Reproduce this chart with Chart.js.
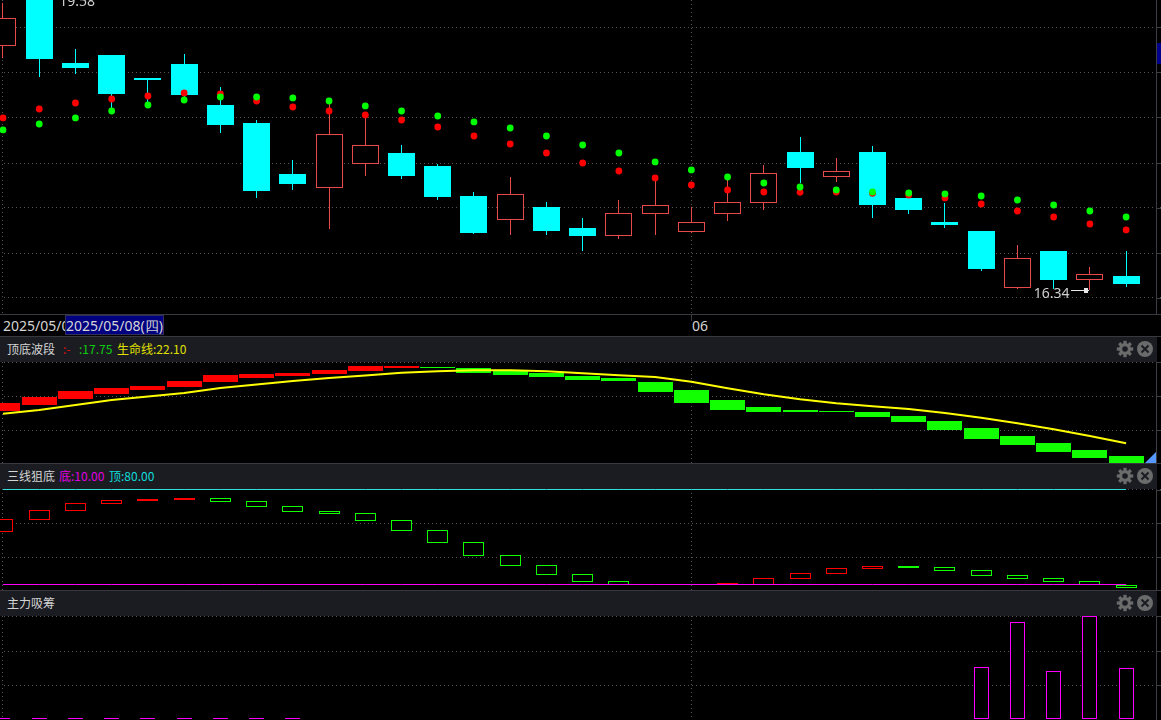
<!DOCTYPE html>
<html>
<head>
<meta charset="utf-8">
<title>K线</title>
<script src="https://cdn.jsdelivr.net/npm/chart.js"></script>
<style>
    html, body { margin: 0; padding: 0; width: 1161px; height: 720px; overflow: hidden; background: #000; }
    body { position: relative; font-family: "Noto Sans CJK SC", "Noto Sans", sans-serif; color: #d4d4d4; }
    canvas { position: absolute; left: 0; display: block; }
    .rule { position: absolute; background: #37393e; }
    .strip { position: absolute; left: 0; width: 1157px; height: 25px; background: #1a1c22; font-size: 12px; line-height: 23px; white-space: nowrap; }
    .strip span { position: absolute; top: 0; }
    .strip svg { position: absolute; top: 3px; }
    #dates { position: absolute; left: 0; top: 315px; width: 1156px; height: 21px; font-family: "Noto Sans", sans-serif; font-size: 14px; line-height: 21px; }
    #dates span { position: absolute; top: 0; white-space: nowrap; }
    #first { left: 3px; width: 62px; overflow: hidden; }
    #hover { left: 65px; width: 99px; height: 20px; text-align: center; background: #000080; outline: 1px solid #30305a; outline-offset: -1px; }
    #month { left: 692px; }
    #tag { position: absolute; left: 1157px; top: 43px; width: 4px; height: 21px; background: #00008b; }
    #corner { position: absolute; left: 1145px; top: 452px; width: 0; height: 0; border-left: 11px solid transparent; border-bottom: 11px solid #5599ff; }
</style>
</head>
<body>
<canvas id="main" width="1161" height="314" style="top:0"></canvas>
<div class="rule" style="left:0;top:314px;width:1161px;height:1px"></div>
<div id="dates"><span id="first"></span><span id="hover"></span><span id="month"></span></div>
<div class="rule" style="left:691px;top:315px;width:1px;height:6px"></div>
<div class="rule" style="left:0;top:336px;width:1161px;height:1px"></div>
<div class="strip" style="top:337px"><span style="left:7px">顶底波段</span><span style="left:63px;color:#e01010">:-</span><span style="left:79px;color:#10cc10">:17.75</span><span style="left:117px;color:#e0e000">生命线:22.10</span></div>
<canvas id="wave" width="1161" height="101" style="top:362px"></canvas>
<div class="rule" style="left:0;top:463px;width:1161px;height:1px"></div>
<div class="strip" style="top:464px"><span style="left:7px">三线狙底</span><span style="left:59px;color:#e000e0">底:10.00</span><span style="left:109px;color:#10dcdc">顶:80.00</span></div>
<canvas id="three" width="1161" height="101" style="top:489px"></canvas>
<div class="rule" style="left:0;top:590px;width:1161px;height:1px"></div>
<div class="strip" style="top:591px"><span style="left:7px">主力吸筹</span></div>
<canvas id="money" width="1161" height="104" style="top:616px"></canvas>
<div id="tag"></div>
<div id="corner"></div>

<script>
const dates = [
    "2025/05/06", "2025/05/07", "2025/05/08", "2025/05/09", "2025/05/12", "2025/05/13", "2025/05/14", "2025/05/15",
    "2025/05/16", "2025/05/19", "2025/05/20", "2025/05/21", "2025/05/22", "2025/05/23", "2025/05/26", "2025/05/27",
    "2025/05/28", "2025/05/29", "2025/05/30", "2025/06/03", "2025/06/04", "2025/06/05", "2025/06/06", "2025/06/09",
    "2025/06/10", "2025/06/11", "2025/06/12", "2025/06/13", "2025/06/16", "2025/06/17", "2025/06/18", "2025/06/19",
]

const opens = [
    19.079, 19.61, 18.891, 18.981, 18.723, 18.88, 18.419, 18.216, 17.643, 17.488, 17.758, 17.879, 17.733, 17.395, 17.128, 17.271,
    17.035, 16.948, 17.196, 16.993, 17.196, 17.32, 17.89, 17.612, 17.89, 17.373, 17.103, 17.001, 16.363, 16.776, 16.453, 16.495,
]
const highs = [
    19.563, 19.62, 19.045, 18.981, 18.723, 18.993, 18.618, 18.25, 17.8, 18.441, 18.306, 17.969, 17.755, 17.44, 17.609, 17.328,
    17.148, 17.35, 17.598, 17.271, 17.598, 17.744, 18.059, 17.823, 17.958, 17.395, 17.316, 17.001, 16.844, 16.776, 16.596, 16.776,
]
const lows = [
    18.951, 18.737, 18.771, 18.363, 18.419, 18.475, 18.107, 17.372, 17.463, 17.024, 17.623, 17.586, 17.35, 16.968, 16.956, 16.956,
    16.776, 16.911, 16.956, 16.979, 17.114, 17.238, 17.541, 17.553, 17.148, 17.193, 17.035, 16.551, 16.349, 16.349, 16.34, 16.371,
]
const closes = [
    19.394, 18.94, 18.835, 18.546, 18.7, 18.531, 18.194, 17.451, 17.53, 18.089, 17.965, 17.62, 17.384, 16.979, 17.414, 17.001,
    16.945, 17.2, 17.29, 17.099, 17.324, 17.65, 17.71, 17.673, 17.294, 17.238, 17.069, 16.574, 16.694, 16.45, 16.514, 16.405,
]
const redDots = [
    18.273, 18.374, 18.441, 18.486, 18.52, 18.554, 18.543, 18.464, 18.396, 18.351, 18.306, 18.25, 18.171, 18.07, 17.98, 17.879,
    17.766, 17.676, 17.598, 17.519, 17.463, 17.44, 17.436, 17.44, 17.425, 17.406, 17.373, 17.305, 17.226, 17.159, 17.08, 17.013,
]
const greenDots = [
    18.138, 18.205, 18.273, 18.351, 18.419, 18.475, 18.509, 18.509, 18.498, 18.464, 18.408, 18.351, 18.295, 18.228, 18.16, 18.07,
    17.969, 17.879, 17.778, 17.688, 17.609, 17.541, 17.496, 17.463, 17.44, 17.429, 17.418, 17.395, 17.35, 17.294, 17.226, 17.159,
]
const highText = "19.58"
const lowText = "16.34"

const waveTops = [
    22.18, 22.42, 22.66, 22.78, 22.86, 23.06, 23.30, 23.34, 23.38, 23.50, 23.66, 23.66, 23.62, 23.58, 23.46, 23.38,
    23.26, 23.18, 23.02, 22.70, 22.30, 22.02, 21.90, 21.86, 21.82, 21.66, 21.46, 21.18, 20.86, 20.58, 20.30, 20.06,
]
const waveBottoms = [
    21.86, 22.10, 22.34, 22.54, 22.70, 22.82, 23.02, 23.18, 23.26, 23.34, 23.46, 23.58, 23.58, 23.38, 23.30, 23.22,
    23.10, 23.06, 22.62, 22.18, 21.90, 21.82, 21.82, 21.82, 21.62, 21.42, 21.10, 20.74, 20.50, 20.22, 19.98, 19.78,
]
const lifeLine = [
    21.75, 21.90, 22.10, 22.30, 22.44, 22.58, 22.78, 22.92, 23.06, 23.18, 23.28, 23.39, 23.45, 23.49, 23.49, 23.45,
    23.37, 23.29, 23.22, 23.03, 22.77, 22.53, 22.33, 22.17, 22.05, 21.94, 21.78, 21.59, 21.37, 21.13, 20.86, 20.57,
]
const waveRedCount = 12

const threeTops = [
    58.04, 64.67, 69.83, 72.26, 73.00, 73.73, 73.73, 71.30, 67.62, 63.93, 62.46, 57.30, 49.93, 41.09, 31.51, 24.15,
    17.52, 12.36, null, null, 11.11, 14.57, 18.25, 21.94, 23.63, 23.41, 22.67, 20.46, 16.78, 14.57, 12.36, 10.00,
]
const threeBottoms = [
    48.90, 57.75, 64.38, 69.53, 71.52, 72.48, 71.01, 67.32, 63.64, 62.17, 57.01, 49.64, 40.80, 31.22, 23.85, 17.22,
    12.06, 9.63, null, null, 9.63, 10.00, 14.27, 17.96, 21.64, 22.38, 20.17, 16.48, 14.27, 12.06, 10.00, 7.64,
]
const threeColors = [
    "r", "r", "r", "r", "r", "r", "g", "g", "g", "g", "g", "g", "g", "g", "g", "g",
    "g", "g", "g", "g", "r", "r", "r", "r", "r", "g", "g", "g", "g", "g", "g", "g",
]
const bottomLine = 10
const topLine = 80

const moneyBars = [
    1, 1, 1, 1, 1, 1, 1, 1, 1, null, null, null, null, null, null, null,
    null, null, null, null, null, null, null, null, null, null, null, 50.2, 93.9, 46.3, 100, 49.2,
]

const mainGrid = [19.291, 18.787, 18.28, 17.766, 17.26, 16.75, 16.248]
const waveGrid = [23.81, 22.45, 21.09]
const threeGrid = [80, 55.1, 30]
const moneyGrid = [100, 65.7, 32.7]
const xGrid = [0, 19]

const RED = "#ff0000"
const GREEN = "#11ff00"
const CANDLE_RED = "#e84a4a"
const CYAN = "#00ffff"
const MAGENTA = "#ff00ff"

const xMin = -0.0828
const xMax = 31.963

// bars land on whole pixels, like the original terminal draws them
const snapBars = {
    id: "snapBars",
    beforeDatasetsDraw(chart) {
        chart.ctx.fillStyle = "#000"
        chart.ctx.fillRect(0, 0, 2, chart.height)
        chart.getSortedVisibleDatasetMetas().forEach((meta) => {
            if (meta.type !== "bar") return
            meta.data.forEach((el) => {
                el.x = Math.floor(el.x) + 0.5
                el.y = Math.round(el.y)
                el.base = Math.round(el.base)
            })
        })
    },
}

const rightAxis = {
    id: "rightAxis",
    afterDraw(chart) {
        const ctx = chart.ctx
        ctx.save()
        ctx.fillStyle = "#3c3e44"
        ctx.fillRect(1156, 0, 1, chart.height)
        chart.scales.y.ticks.forEach((tick) => {
            ctx.fillRect(1157, Math.round(chart.scales.y.getPixelForValue(tick.value)), 4, 1)
        })
        ctx.restore()
    },
}

const extremeLabels = {
    id: "extremeLabels",
    afterDatasetsDraw(chart) {
        const ctx = chart.ctx
        const { x, y } = chart.scales
        const highIdx = highs.indexOf(Math.max(...highs))
        const lowIdx = lows.indexOf(Math.min(...lows))
        const lowX = Math.floor(x.getPixelForValue(lowIdx)) + 0.5
        const lowY = Math.round(y.getPixelForValue(lows[lowIdx]))

        ctx.save()
        ctx.font = '14px "Noto Sans"'
        ctx.textBaseline = "middle"
        ctx.fillStyle = "#d0d0d0"
        ctx.textAlign = "left"
        ctx.fillText(highText, x.getPixelForValue(highIdx) + 20, y.getPixelForValue(highs[highIdx]) + 4)
        ctx.textAlign = "right"
        ctx.fillText(lowText, lowX - 20, lowY + 4)

        ctx.fillStyle = "#e8e8e8"
        ctx.fillRect(lowX - 18.5, lowY, 18, 1)
        ctx.fillRect(lowX - 5.5, lowY - 2, 4, 5)
        ctx.restore()
    },
}

function gridScale(values, min, max) {
    return {
        type: "linear",
        offset: false,
        min: min,
        max: max,
        afterBuildTicks: (scale) => { scale.ticks = values.map((v) => ({ value: v })) },
        ticks: { display: false, autoSkip: false, callback: () => "" },
        grid: { color: "#555555", drawTicks: false, offset: false },
        border: { display: false, dash: [1, 3] },
    }
}

function makePanel(id, yMin, yMax, yGrid, datasets, plugins) {
    new Chart(document.getElementById(id), {
        type: "bar",
        data: { datasets: datasets },
        options: {
            animation: false,
            responsive: false,
            devicePixelRatio: 1,
            layout: { padding: 0, autoPadding: false },
            plugins: { legend: { display: false }, tooltip: { enabled: false } },
            scales: {
                x: gridScale(xGrid, xMin, xMax),
                y: gridScale(yGrid, yMin, yMax),
            },
        },
        plugins: [snapBars, rightAxis].concat(plugins || []),
    })
}

function barSet(values, width, fill, edge, order) {
    return {
        type: "bar",
        data: values,
        grouped: false,
        barThickness: width,
        backgroundColor: fill,
        borderColor: edge,
        borderWidth: 1,
        borderSkipped: false,
        inflateAmount: 0,
        order: order,
    }
}

function lineSet(values, color, width, order) {
    return {
        type: "line",
        data: values.map((v, i) => ({ x: i, y: v })),
        borderColor: color,
        borderWidth: width,
        pointRadius: 0,
        tension: 0,
        order: order,
    }
}

function dotSet(values, color, order) {
    return {
        type: "line",
        data: values.map((v, i) => ({ x: i, y: v })),
        showLine: false,
        pointStyle: "circle",
        pointRadius: 3.4,
        pointBackgroundColor: color,
        pointBorderWidth: 0,
        order: order,
    }
}

function loadMain() {
    const isUp = opens.map((o, i) => closes[i] >= o)
    const wickColors = isUp.map((up) => up ? CANDLE_RED : CYAN)
    const bodyFills = isUp.map((up) => up ? "#000" : CYAN)
    const wicks = opens.map((o, i) => ({ x: i, y: [lows[i], highs[i]] }))
    const bodies = opens.map((o, i) => ({ x: i, y: [Math.min(o, closes[i]), Math.max(o, closes[i])] }))

    const wickSet = barSet(wicks, 1, wickColors, wickColors, 4)
    wickSet.borderWidth = 0

    makePanel("main", 16.0675, 19.6, mainGrid, [
        wickSet,
        barSet(bodies, 27, bodyFills, wickColors, 3),
        dotSet(redDots, RED, 2),
        dotSet(greenDots, "#00ff00", 1),
    ], [extremeLabels])
}

function loadWave() {
    const colors = waveTops.map((v, i) => i < waveRedCount ? RED : GREEN)
    const bars = waveTops.map((v, i) => ({ x: i, y: [waveBottoms[i], v] }))
    makePanel("wave", 19.78, 23.82, waveGrid, [
        lineSet(lifeLine, "#ffff00", 2, 1),
        barSet(bars, 35, colors, colors, 2),
    ])
}

function loadThree() {
    const colors = threeColors.map((c) => c === "r" ? RED : GREEN)
    const bars = threeTops.map((v, i) => ({ x: i, y: v === null ? null : [threeBottoms[i], v] }))
        .filter((b) => b.y !== null)
    const barColors = bars.map((b) => colors[b.x])
    makePanel("three", 5.95, 80.37, threeGrid, [
        barSet(bars, 21, "#000", barColors, 3),
        lineSet(dates.map(() => bottomLine), MAGENTA, 1, 1),
        lineSet(dates.map(() => topLine), "#35dcdc", 1, 2),
    ])
}

function loadMoney() {
    const bars = moneyBars.map((v, i) => ({ x: i, y: v === null ? null : [0, v] }))
        .filter((b) => b.y !== null)
    makePanel("money", -0.97, 100, moneyGrid, [
        barSet(bars, 15, "#000", MAGENTA, 1),
    ])
}

function addIcons() {
    const gear = '<svg width="18" height="18" style="left:1116px" viewBox="0 0 18 18"><g fill="#6b6b6b"><circle cx="9" cy="9" r="6"/>' +
        [0, 45, 90, 135, 180, 225, 270, 315].map((a) => '<rect x="7.4" y="0.8" width="3.2" height="4" transform="rotate(' + a + ' 9 9)"/>').join("") +
        '</g><circle cx="9" cy="9" r="2.8" fill="#1a1c22"/></svg>'
    const close = '<svg width="18" height="18" style="left:1136px" viewBox="0 0 18 18"><circle cx="9" cy="9" r="8" fill="#6b6b6b"/>' +
        '<path d="M5.5 5.5L12.5 12.5M12.5 5.5L5.5 12.5" stroke="#1a1c22" stroke-width="2"/></svg>'
    document.querySelectorAll(".strip").forEach((strip) => {
        strip.insertAdjacentHTML("beforeend", gear + close)
    })
}

function loadDates() {
    document.getElementById("first").textContent = dates[0]
    document.getElementById("hover").textContent = dates[2] + "(四)"
    document.getElementById("month").textContent = dates[19].slice(5, 7)
}

loadDates()
addIcons()
loadMain()
loadWave()
loadThree()
loadMoney()
</script>
</body>
</html>
